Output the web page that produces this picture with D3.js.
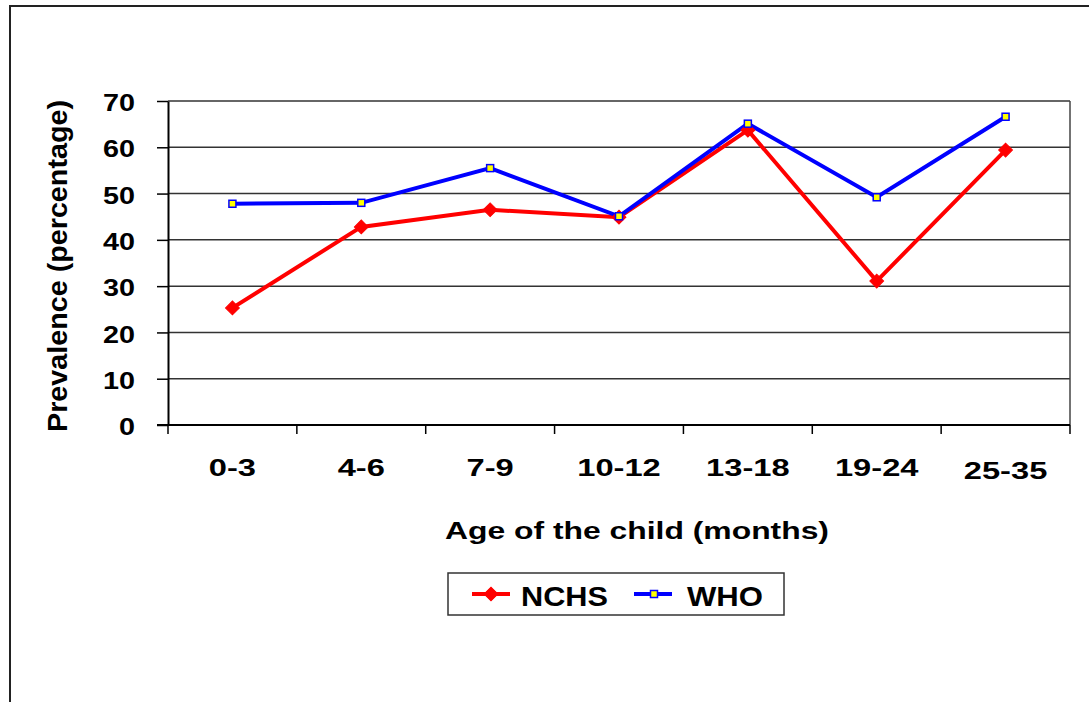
<!DOCTYPE html>
<html>
<head>
<meta charset="utf-8">
<script src="https://cdn.jsdelivr.net/npm/d3@7"></script>
<style>
  html, body { margin: 0; padding: 0; background: #fff; }
  svg { display: block; }
  text { font-family: "Liberation Sans", Arial, sans-serif; font-weight: bold; fill: #000; }
</style>
</head>
<body>
<svg id="chart" width="1089" height="702"></svg>
<script>
// Age groups (months) and prevalence (%) under each growth reference
const categories = ["0-3", "4-6", "7-9", "10-12", "13-18", "19-24", "25-35"];
const nchsValues = [25.3, 42.8, 46.5, 44.9, 63.7, 31.1, 59.4];
const whoValues  = [47.8, 48.0, 55.5, 45.1, 65.1, 49.2, 66.6];
const yTicks = [0, 10, 20, 30, 40, 50, 60, 70];

const svg = d3.select("#chart");
const plot = { left: 168, right: 1070, top: 101, bottom: 425 };

// Widen a text element along its baseline by a factor
function widen(sel, factor) {
  sel.each(function () {
    const w = this.getComputedTextLength();
    d3.select(this).attr("textLength", w * factor).attr("lengthAdjust", "spacingAndGlyphs");
  });
}

// Outer frame (runs past the right and bottom edges)
svg.append("rect")
  .attr("x", 10).attr("y", 6)
  .attr("width", 1200).attr("height", 800)
  .attr("fill", "none").attr("stroke", "#222").attr("stroke-width", 2);

const x = d3.scaleBand().domain(categories).range([plot.left, plot.right]).padding(0);
const y = d3.scaleLinear().domain([0, 70]).range([plot.bottom, plot.top]);
const cx = d => x(d) + x.bandwidth() / 2;

// Horizontal gridlines
svg.append("g").selectAll("line").data(yTicks.filter(t => t > 0)).join("line")
  .attr("x1", plot.left).attr("x2", plot.right)
  .attr("y1", d => y(d)).attr("y2", d => y(d))
  .attr("stroke", "#333").attr("stroke-width", 1.5);

// Right border of plot area
svg.append("line")
  .attr("x1", plot.right).attr("x2", plot.right)
  .attr("y1", plot.top).attr("y2", plot.bottom)
  .attr("stroke", "#444").attr("stroke-width", 1.5);

// Y axis
const yAxis = svg.append("g")
  .attr("transform", `translate(${plot.left},0)`)
  .call(d3.axisLeft(y).tickValues(yTicks).tickSize(11).tickPadding(22).tickSizeOuter(0));
yAxis.select(".domain").attr("stroke", "#000").attr("stroke-width", 2);
yAxis.selectAll(".tick line").attr("stroke", "#000").attr("stroke-width", 1.5);
yAxis.selectAll(".tick text")
  .style("font-size", "23px").style("font-weight", "bold")
  .style("font-family", "'Liberation Sans', Arial, sans-serif")
  .attr("dy", "0.42em")
  .call(widen, 1.25);

// X axis with tick marks at category boundaries
const xAxisG = svg.append("g").attr("transform", `translate(0,${plot.bottom})`);
xAxisG.append("line")
  .attr("x1", plot.left - 11).attr("x2", plot.right)
  .attr("y1", 0).attr("y2", 9)
  .attr("y2", 0)
  .attr("stroke", "#000").attr("stroke-width", 2);
const boundaries = categories.map(c => x(c)).concat([plot.right]);
xAxisG.selectAll("line.tk").data(boundaries).join("line")
  .attr("class", "tk")
  .attr("x1", d => d).attr("x2", d => d)
  .attr("y1", 0).attr("y2", 9)
  .attr("stroke", "#000").attr("stroke-width", 1.5);
xAxisG.selectAll("text").data(categories).join("text")
  .attr("x", d => cx(d)).attr("y", (d, i) => i === categories.length - 1 ? 54 : 51)
  .attr("text-anchor", "middle")
  .style("font-size", "23px")
  .text(d => d)
  .call(widen, 1.42);

// Axis titles
svg.append("text")
  .attr("x", 637).attr("y", 539)
  .attr("text-anchor", "middle")
  .style("font-size", "23px")
  .text("Age of the child (months)")
  .call(widen, 1.385);
svg.append("text")
  .attr("transform", "translate(67,266) rotate(-90)")
  .attr("text-anchor", "middle")
  .style("font-size", "28px")
  .text("Prevalence (percentage)")
  .attr("textLength", 332).attr("lengthAdjust", "spacingAndGlyphs");

// Series
const line = d3.line().x((d, i) => cx(categories[i])).y(d => y(d));

svg.append("path").datum(nchsValues)
  .attr("d", line).attr("fill", "none")
  .attr("stroke", "#ff0000").attr("stroke-width", 4).attr("stroke-linejoin", "miter");
svg.append("path").datum(whoValues)
  .attr("d", line).attr("fill", "none")
  .attr("stroke", "#0000ff").attr("stroke-width", 4).attr("stroke-linejoin", "miter");

const diamond = d3.symbol().type(d3.symbolSquare).size(95);
svg.append("g").selectAll("path").data(nchsValues).join("path")
  .attr("d", diamond)
  .attr("transform", (d, i) => `translate(${cx(categories[i])},${y(d)}) rotate(45)`)
  .attr("fill", "#ff0000").attr("stroke", "#ff0000").attr("stroke-width", 1);

svg.append("g").selectAll("rect").data(whoValues).join("rect")
  .attr("x", (d, i) => cx(categories[i]) - 3.5)
  .attr("y", d => y(d) - 3.5)
  .attr("width", 7).attr("height", 7)
  .attr("fill", "#ffff00").attr("stroke", "#0000ff").attr("stroke-width", 1.5);

// Legend
const lg = svg.append("g");
lg.append("rect")
  .attr("x", 448).attr("y", 573).attr("width", 336).attr("height", 42)
  .attr("fill", "#fff").attr("stroke", "#333").attr("stroke-width", 1.5);
lg.append("line").attr("x1", 472).attr("x2", 510).attr("y1", 594).attr("y2", 594)
  .attr("stroke", "#ff0000").attr("stroke-width", 4);
lg.append("path").attr("d", diamond)
  .attr("transform", "translate(491,594) rotate(45)")
  .attr("fill", "#ff0000").attr("stroke", "#ff0000");
lg.append("text").attr("x", 521).attr("y", 605.5).style("font-size", "28px")
  .attr("textLength", 87).attr("lengthAdjust", "spacingAndGlyphs").text("NCHS");
lg.append("line").attr("x1", 634).attr("x2", 672).attr("y1", 594).attr("y2", 594)
  .attr("stroke", "#0000ff").attr("stroke-width", 4);
lg.append("rect").attr("x", 650.5).attr("y", 590.5).attr("width", 7).attr("height", 7)
  .attr("fill", "#ffff00").attr("stroke", "#0000ff").attr("stroke-width", 1.5);
lg.append("text").attr("x", 687).attr("y", 605.5).style("font-size", "28px")
  .attr("textLength", 76).attr("lengthAdjust", "spacingAndGlyphs").text("WHO");
</script>
</body>
</html>
